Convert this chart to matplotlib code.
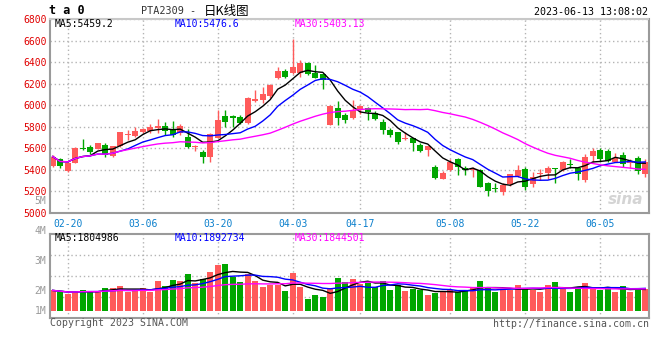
import numpy as np
import pandas as pd
import matplotlib
matplotlib.use('Agg')
import matplotlib.pyplot as plt
from matplotlib.transforms import blended_transform_factory

# trading days on the chart (holidays 04-05 and 05-01..05-03 are skipped)
days = pd.bdate_range('2023-02-16', '2023-06-13')
days = days[~days.isin(pd.to_datetime(['2023-04-05', '2023-05-01', '2023-05-02', '2023-05-03']))]
day_labels = list(days.strftime('%m-%d'))
tick_days = ['02-20', '03-06', '03-20', '04-03', '04-17', '05-08', '05-22', '06-05']

open_ = [5432, 5500, 5392, 5468, 5600, 5615, 5597, 5630, 5530, 5621,
         5720, 5713, 5753, 5759, 5793, 5805, 5768, 5744, 5707, 5612,
         5569, 5523, 5692, 5897, 5892, 5891, 5839, 6039, 6045, 6090,
         6255, 6322, 6297, 6303, 6395, 6303, 6288, 5820, 5976, 5906,
         5881, 5958, 5976, 5930, 5845, 5774, 5753, 5689, 5692, 5631,
         5582, 5426, 5319, 5399, 5503, 5420, 5396, 5396, 5276, 5224,
         5197, 5273, 5344, 5411, 5273, 5365, 5374, 5407, 5396, 5444,
         5420, 5307, 5527, 5588, 5573, 5472, 5536, 5466, 5506, 5359]
high = [5540, 5508, 5470, 5610, 5683, 5630, 5652, 5646, 5625, 5755,
        5768, 5799, 5790, 5830, 5875, 5845, 5851, 5830, 5784, 5630,
        5584, 5738, 5958, 5958, 5911, 5905, 6075, 6140, 6167, 6197,
        6352, 6337, 6618, 6416, 6404, 6373, 6288, 6003, 6039, 5930,
        6045, 6003, 5982, 5951, 5875, 5792, 5753, 5753, 5700, 5646,
        5625, 5442, 5390, 5497, 5512, 5436, 5429, 5405, 5289, 5276,
        5282, 5359, 5442, 5429, 5384, 5405, 5436, 5420, 5481, 5503,
        5429, 5543, 5604, 5604, 5595, 5558, 5567, 5497, 5527, 5497]
low = [5425, 5420, 5385, 5460, 5580, 5545, 5590, 5518, 5524, 5615,
       5677, 5704, 5738, 5738, 5740, 5722, 5707, 5722, 5600, 5573,
       5468, 5477, 5692, 5799, 5799, 5830, 5830, 6030, 6018, 6066,
       6245, 6252, 6288, 6263, 6282, 6251, 6150, 5814, 5814, 5839,
       5875, 5921, 5863, 5866, 5732, 5707, 5640, 5677, 5572, 5570,
       5533, 5319, 5313, 5390, 5353, 5350, 5338, 5237, 5160, 5191,
       5166, 5252, 5338, 5212, 5237, 5307, 5313, 5276, 5390, 5420,
       5307, 5289, 5475, 5487, 5472, 5472, 5426, 5420, 5359, 5338]
close = [5524, 5432, 5468, 5600, 5595, 5563, 5646, 5539, 5621, 5753,
         5725, 5759, 5780, 5799, 5805, 5759, 5722, 5805, 5615, 5618,
         5523, 5731, 5860, 5845, 5886, 5839, 6069, 6060, 6100, 6191,
         6322, 6261, 6352, 6395, 6288, 6257, 6233, 5994, 5884, 5860,
         5958, 5994, 5936, 5869, 5768, 5722, 5655, 5692, 5652, 5579,
         5621, 5328, 5374, 5472, 5429, 5396, 5411, 5243, 5206, 5221,
         5258, 5359, 5396, 5243, 5334, 5367, 5420, 5405, 5472, 5442,
         5359, 5521, 5573, 5497, 5481, 5512, 5451, 5481, 5390, 5475]
# volume, millions of lots
volume = [2.02, 1.97, 1.91, 1.97, 2.02, 1.99, 1.99, 2.10, 2.10, 2.16,
          1.97, 1.99, 2.10, 1.97, 2.33, 2.17, 2.36, 2.32, 2.56, 2.27,
          2.41, 2.63, 2.86, 2.89, 2.47, 2.30, 2.58, 2.33, 2.13, 2.19,
          2.21, 1.99, 2.60, 2.13, 1.72, 1.86, 1.80, 2.10, 2.43, 2.30,
          2.39, 2.24, 2.27, 2.13, 2.32, 2.02, 2.19, 1.99, 2.08, 2.04,
          1.86, 1.94, 2.00, 2.04, 1.97, 2.04, 2.13, 2.33, 2.10, 1.97,
          2.02, 2.02, 2.19, 2.10, 2.02, 1.97, 2.19, 2.30, 2.08, 1.97,
          2.13, 2.27, 2.08, 2.04, 2.10, 1.97, 2.16, 1.97, 2.10, 2.06]

price_ma_text = ['MA5:5459.2', 'MA10:5476.6', 'MA30:5403.13']
vol_ma_text = ['MA5:1804986', 'MA10:1892734', 'MA30:1844501']
vol_ticks = [5, 4, 3, 2]
vol_floor = 1.333

RED = '#ff5a5a'
GREEN = '#00a600'
MA_COLORS = ['black', '#0000ff', '#ff00ff']
GRID = '#b4b4b4'
SPINE = '#9a9a9a'
MONO = 'DejaVu Sans Mono'

o = np.array(open_)
c = np.array(close)
x = np.arange(len(c))
col = np.where(c >= o, RED, GREEN)
tick_pos = [day_labels.index(d) for d in tick_days]

fig = plt.figure(figsize=(6.6, 3.6), dpi=100)
ax = fig.add_axes([50 / 660, 1 - 213 / 360, 599 / 660, 194 / 360])
axv = fig.add_axes([50 / 660, 1 - 318 / 360, 599 / 660, 84 / 360])

for a in (ax, axv):
    a.set_xlim(-0.36, 79.5)
    a.set_xticks(tick_pos)
    a.grid(axis='x', color=GRID, ls=(0, (1, 2)), lw=1)
    a.tick_params(length=0)
    for s in ('left', 'right', 'bottom', 'top'):
        a.spines[s].set_color(SPINE)
        a.spines[s].set_linewidth(1.5)
    a.set_axisbelow(True)

# price panel
ax.set_ylim(5000, 6800)
ax.set_yticks(range(5000, 6801, 200))
ax.grid(axis='y', color=GRID, ls=(0, (1, 2)), lw=1)
ax.spines['top'].set_color('#c8c8c8')
ax.spines['top'].set_linestyle((0, (1, 1)))
ax.tick_params(axis='y', labelcolor='#e00000', labelsize=7, pad=2.5)
ax.tick_params(axis='x', labelcolor='#0a7fcc', labelsize=7, pad=4)
ax.set_xticklabels(tick_days)
for t in ax.get_xticklabels() + ax.get_yticklabels():
    t.set_family(MONO)

ax.vlines(x, low, high, colors=col, lw=1, zorder=2)
body_h = np.maximum(np.abs(c - o), 10)
ax.bar(x, body_h, 0.78, bottom=np.minimum(o, c), color=col, lw=0, zorder=2)

s = pd.Series(c, dtype=float)
for n, colr in zip((5, 10, 30), MA_COLORS):
    ax.plot(x, s.rolling(n, min_periods=1).mean(), color=colr, lw=1, zorder=3)

for txt, xp, colr in zip(price_ma_text, (55, 175, 295), MA_COLORS):
    fig.text(xp / 660, 1 - 24 / 360, txt, color=colr, fontsize=7, family=MONO, va='center')

# sina watermark
ax.text(0.99, 0.07, 'sina', transform=ax.transAxes, ha='right', va='center',
        fontsize=11, fontweight='bold', style='italic', color='#d4d4d4', family='DejaVu Sans')

# volume panel
axv.set_ylim(1.1, 3.9)
axv.set_yticks([])
axv.set_xticklabels([])
for yv in (1.8, 2.5, 3.2):
    axv.axhline(yv, color=GRID, ls=(0, (1, 2)), lw=1, zorder=0)
v = np.array(volume)
axv.bar(x, v - vol_floor, 0.8, bottom=vol_floor, color=col, lw=0, zorder=2)
vs = pd.Series(v)
for n, colr in zip((5, 10, 30), MA_COLORS):
    axv.plot(x, vs.rolling(n, min_periods=1).mean(), color=colr, lw=1, zorder=3)

tr = blended_transform_factory(axv.transAxes, axv.transData)
for m in vol_ticks:
    axv.text(-0.006, m, f'{m}M', transform=tr, ha='right', va='center', fontsize=7,
             color='#9a9a9a', family=MONO, clip_on=False)
axv.text(-0.006, vol_floor, '1M', transform=tr, ha='right', va='center', fontsize=7,
         color='#9a9a9a', family=MONO, clip_on=False)

for txt, xp, colr in zip(vol_ma_text, (55, 175, 295), MA_COLORS):
    fig.text(xp / 660, 1 - 238 / 360, txt, color=colr, fontsize=7, family=MONO, va='center')

# header and footer
fig.text(49 / 660, 1 - 11 / 360, 't a 0', fontsize=8.5, fontweight='bold', family=MONO, va='center')
fig.text(141 / 660, 1 - 11 / 360, 'PTA2309 -', fontsize=7.3, va='center', family=MONO, color='#333333')
fig.text(204 / 660, 1 - 11 / 360, '日K线图', fontsize=9, va='center',
         family=['Noto Sans CJK SC', 'DejaVu Sans'], color='black')
fig.text(648 / 660, 1 - 12 / 360, '2023-06-13 13:08:02', fontsize=7.2, family=MONO,
         ha='right', va='center')
fig.text(50 / 660, 1 - 323 / 360, 'Copyright 2023 SINA.COM', fontsize=7.1, family=MONO,
         color='#555555', va='center')
fig.text(649 / 660, 1 - 324 / 360, 'http://finance.sina.com.cn', fontsize=7.1, family=MONO,
         color='#555555', ha='right', va='center')

fig.savefig('out.png', dpi=100)
